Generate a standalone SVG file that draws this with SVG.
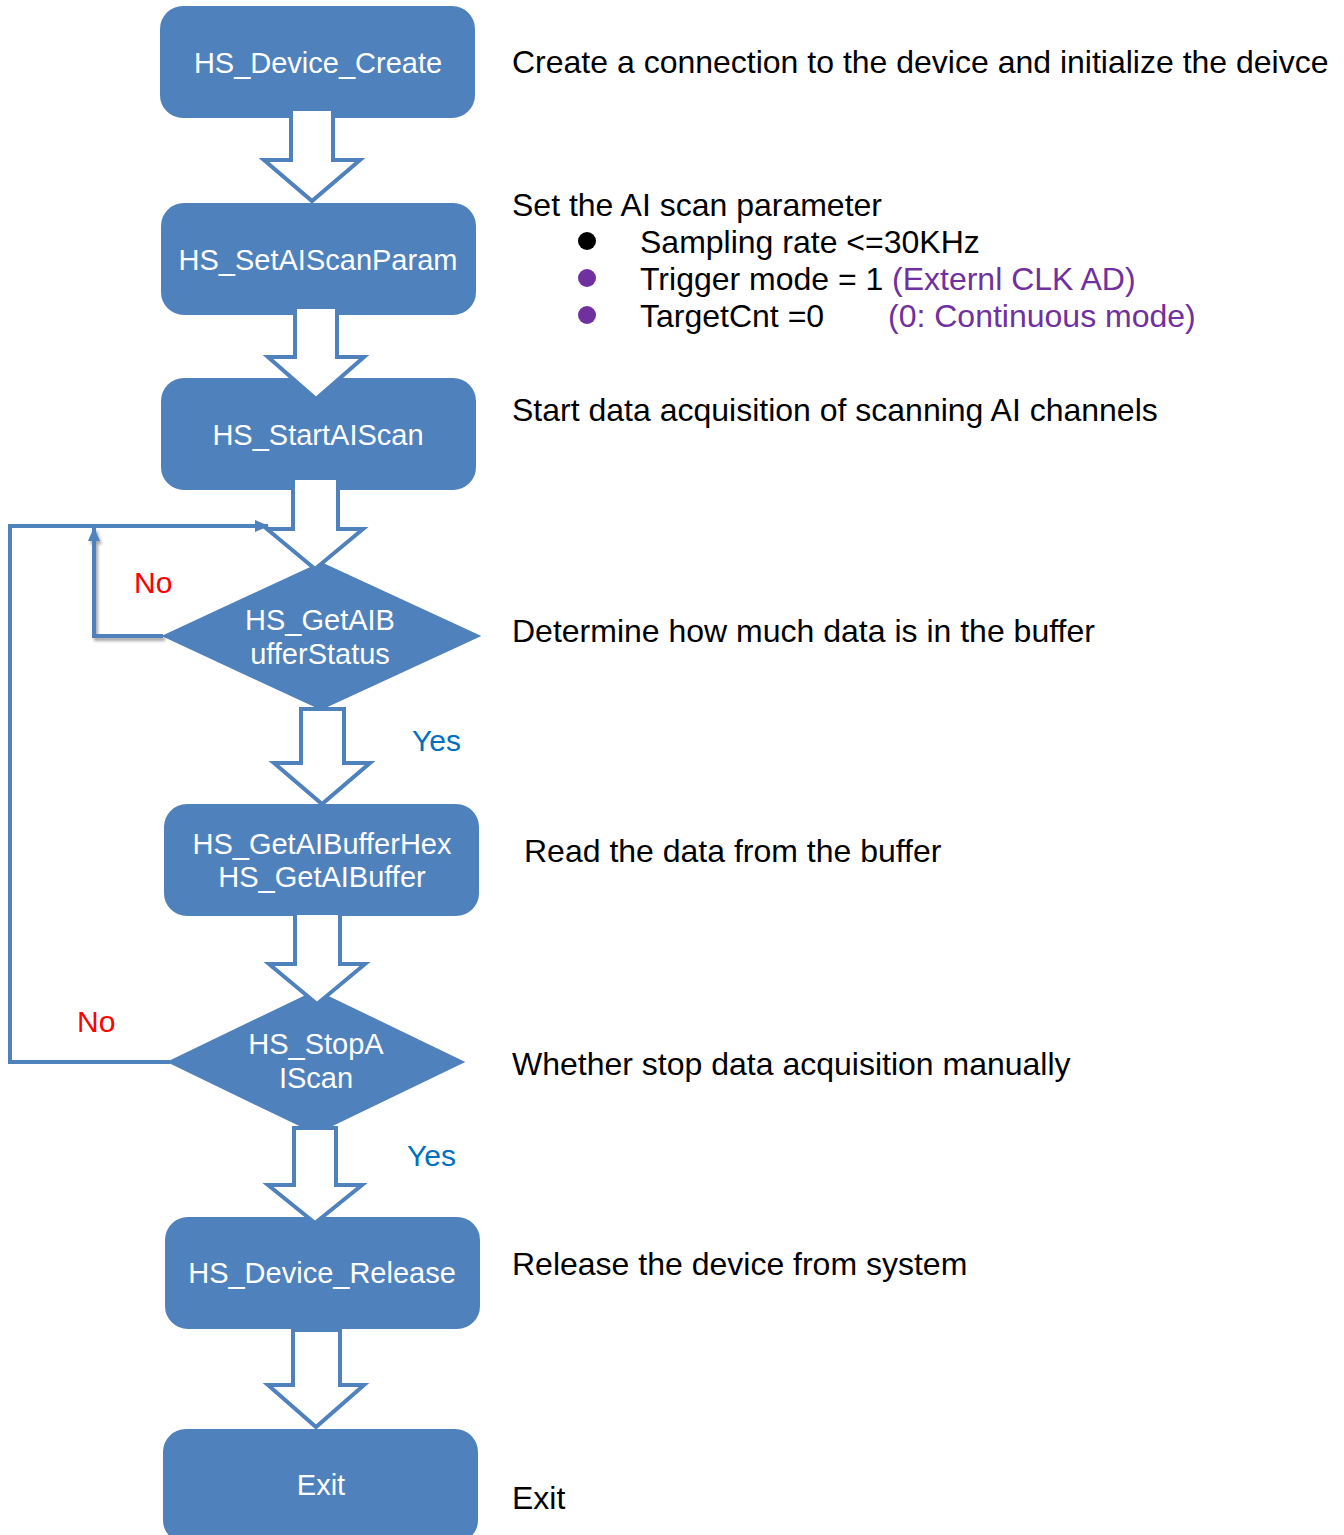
<svg xmlns="http://www.w3.org/2000/svg" width="1344" height="1535" viewBox="0 0 1344 1535">
  <defs>
    <style>
      .box { fill: #4F81BD; stroke: #4F81BD; stroke-width: 2; }
      .dia { fill: #4F81BD; stroke: #4F81BD; stroke-width: 2; }
      .lbl { font-family: "Liberation Sans", Arial, sans-serif; font-size: 29px; fill: #FFFFFF; text-anchor: middle; }
      .desc { font-family: "Liberation Sans", Arial, sans-serif; font-size: 32px; fill: #000000; }
      .purple { fill: #7030A0; }
      .no { font-family: "Liberation Sans", Arial, sans-serif; font-size: 30px; fill: #FF0000; }
      .yes { font-family: "Liberation Sans", Arial, sans-serif; font-size: 30px; fill: #0070C0; }
      .flow { fill: #FFFFFF; stroke: #4F81BD; stroke-width: 4; stroke-linejoin: miter; }
      .loop { fill: none; stroke: #4F81BD; stroke-width: 4; }
    </style>
    <marker id="head" viewBox="0 0 14 12" refX="13" refY="6" markerWidth="14" markerHeight="12" markerUnits="userSpaceOnUse" orient="auto">
      <path d="M0,0 L14,6 L0,12 Z" fill="#4F81BD"/>
    </marker>
    <filter id="shadow" x="-20%" y="-20%" width="140%" height="140%">
      <feDropShadow dx="2" dy="3" stdDeviation="1.5" flood-color="#000000" flood-opacity="0.35"/>
    </filter>
  </defs>

  <!-- process boxes and decisions -->
  <g id="node-create">
    <rect class="box" x="161" y="7" width="313" height="110" rx="22"/>
    <text class="lbl" x="318" y="73">HS_Device_Create</text>
  </g>
  <g id="node-setparam">
    <rect class="box" x="162" y="204" width="313" height="110" rx="22"/>
    <text class="lbl" x="318" y="270">HS_SetAIScanParam</text>
  </g>
  <g id="node-start">
    <rect class="box" x="162" y="379" width="313" height="110" rx="22"/>
    <text class="lbl" x="318" y="445">HS_StartAIScan</text>
  </g>
  <g id="node-status">
    <polygon class="dia" points="164,636 321,563 479,636 321,709"/>
    <text class="lbl" x="320" y="630">HS_GetAIB</text>
    <text class="lbl" x="320" y="664">ufferStatus</text>
  </g>
  <g id="node-read">
    <rect class="box" x="165" y="805" width="313" height="110" rx="22"/>
    <text class="lbl" x="322" y="854">HS_GetAIBufferHex</text>
    <text class="lbl" x="322" y="887">HS_GetAIBuffer</text>
  </g>
  <g id="node-stop">
    <polygon class="dia" points="169,1062 316,991 463,1062 316,1133"/>
    <text class="lbl" x="316" y="1054">HS_StopA</text>
    <text class="lbl" x="316" y="1088">IScan</text>
  </g>
  <g id="node-release">
    <rect class="box" x="166" y="1218" width="313" height="110" rx="22"/>
    <text class="lbl" x="322" y="1283">HS_Device_Release</text>
  </g>
  <g id="node-exit">
    <rect class="box" x="164" y="1430" width="313" height="112" rx="22"/>
    <text class="lbl" x="321" y="1495">Exit</text>
  </g>

  <!-- connectors: hollow block arrows and loop-back lines -->
  <g id="connectors">
    <polygon class="flow" points="291,109 333,109 333,160 360,160 312,201 264,160 291,160"/>
    <polygon class="flow" points="295,307 337,307 337,357 364,357 316,399 268,357 295,357"/>
    <polygon class="flow" points="293,478 338,478 338,529 363,529 315,569 267,529 293,529"/>
    <polygon class="flow" points="301,709 344,709 344,763 370,763 322,804 274,763 301,763"/>
    <polygon class="flow" points="295,913 340,913 340,964 365,964 317,1004 269,964 295,964"/>
    <polygon class="flow" points="294,1128 336,1128 336,1185 362,1185 315,1223 268,1185 294,1185"/>
    <polygon class="flow" points="293,1330 340,1330 340,1385 364,1385 316,1427 268,1385 293,1385"/>

    <polyline class="loop" points="170,1062 10,1062 10,526 268,526" marker-end="url(#head)"/>
    <polyline class="loop" points="163,636 94,636 94,528" marker-end="url(#head)" filter="url(#shadow)"/>
  </g>

  <!-- branch labels -->
  <text class="no" x="134" y="593">No</text>
  <text class="yes" x="412" y="751">Yes</text>
  <text class="no" x="77" y="1032">No</text>
  <text class="yes" x="407" y="1166">Yes</text>

  <!-- step descriptions -->
  <text class="desc" x="512" y="73">Create a connection to the device and initialize the deivce</text>
  <text class="desc" x="512" y="216">Set the AI scan parameter</text>
  <circle cx="587" cy="241" r="9" fill="#000000"/>
  <text class="desc" x="640" y="253">Sampling rate &lt;=30KHz</text>
  <circle cx="587" cy="278" r="9" fill="#7030A0"/>
  <text class="desc" x="640" y="290">Trigger mode = 1</text>
  <text class="desc purple" x="892" y="290">(Externl CLK AD)</text>
  <circle cx="587" cy="315" r="9" fill="#7030A0"/>
  <text class="desc" x="640" y="327">TargetCnt =0</text>
  <text class="desc purple" x="888" y="327">(0: Continuous mode)</text>
  <text class="desc" x="512" y="421">Start data acquisition of scanning AI channels</text>
  <text class="desc" x="512" y="642">Determine how much data is in the buffer</text>
  <text class="desc" x="524" y="862">Read the data from the buffer</text>
  <text class="desc" x="512" y="1075">Whether stop data acquisition manually</text>
  <text class="desc" x="512" y="1275">Release the device from system</text>
  <text class="desc" x="512" y="1509">Exit</text>
</svg>
